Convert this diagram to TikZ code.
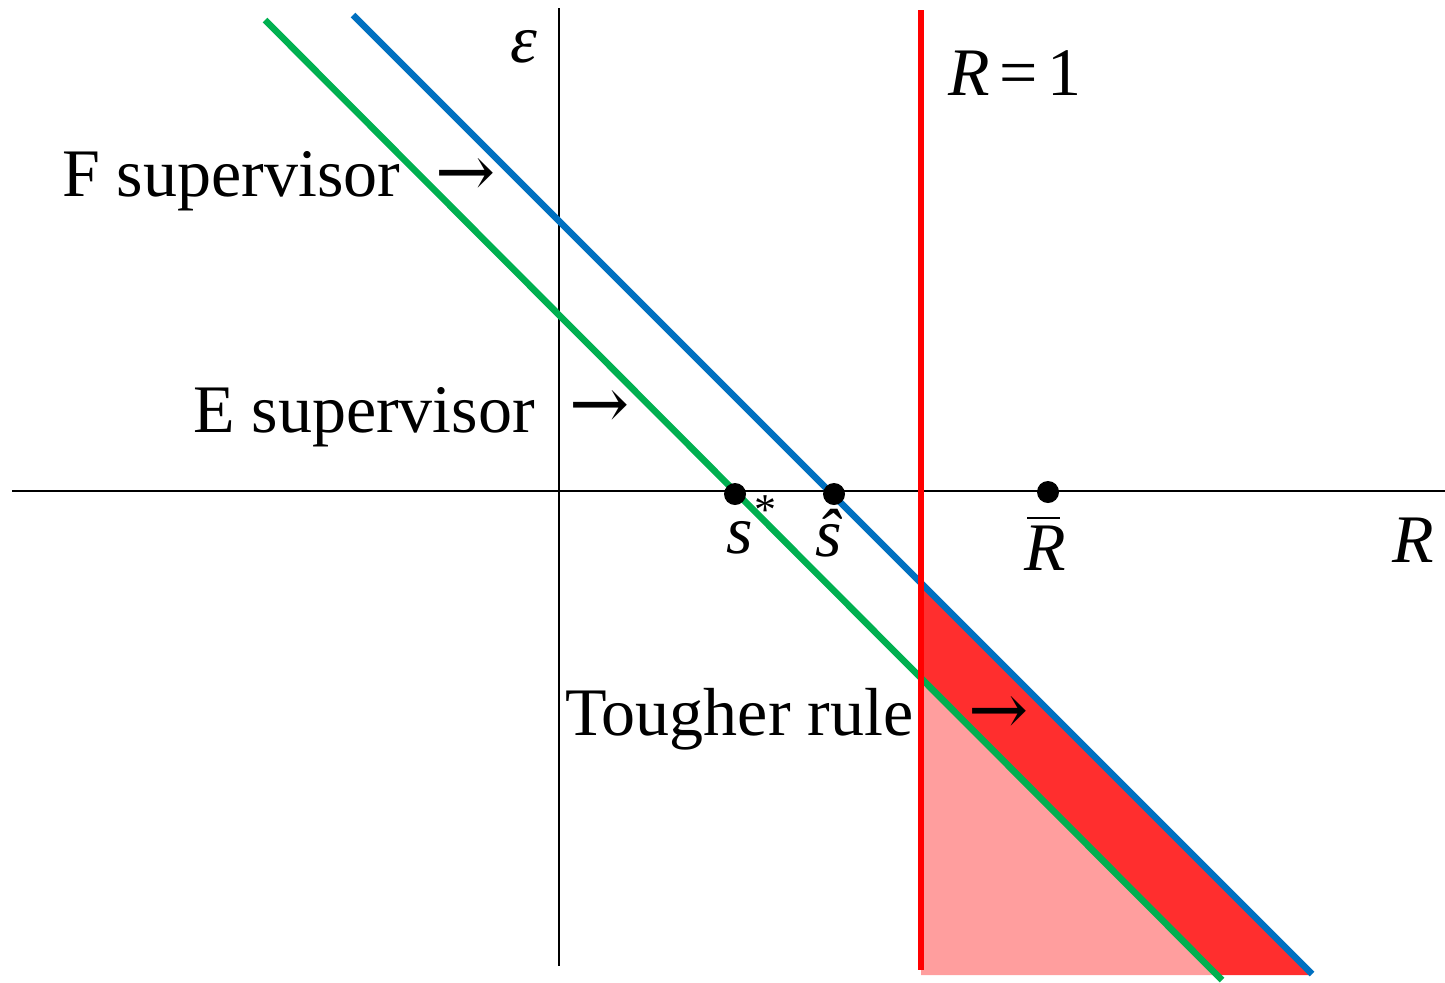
\documentclass[tikz,border=0pt]{standalone}
\usepackage{fontspec}
\setmainfont{Liberation Serif}
\newfontfamily\arrfont{DejaVu Serif}
\begin{document}
\begin{tikzpicture}[x=0.5pt,y=-0.5pt,
  lbl/.style={inner sep=0pt,outer sep=0pt,anchor=base west,font=\fontsize{34}{40}\selectfont},
  arr/.style={inner sep=0pt,outer sep=0pt,anchor=west,font=\arrfont\fontsize{36}{40}\selectfont},
  dot/.style={circle,fill=black,inner sep=0pt,minimum size=11pt},
  axis/.style={line width=1pt,black},
  bigline/.style={line width=3.3pt}]
\definecolor{bl}{RGB}{0,112,192}
\definecolor{gr}{RGB}{0,176,80}
\definecolor{rd}{RGB}{255,0,0}
\useasboundingbox (0,0) rectangle (1445,982);
% coordinates
\coordinate (bT) at (353,15);
\coordinate (bB) at (1312,974);
\coordinate (gT) at (265,20);
\coordinate (gB) at (1222,980);
\coordinate (rT) at (921,10);
\coordinate (rB) at (921,970);
\coordinate (yT) at (559,8);
\coordinate (yB) at (559,966);
\coordinate (xL) at (12,491);
\coordinate (xR) at (1445,491);
\coordinate (barL) at (1027,518);
\coordinate (barR) at (1060,518);
% shaded regions
\fill[rd!38] (921,678) -- (921,975) -- (1217,975) -- cycle;
\fill[rd!82] (921,583) -- (921,678) -- (1217,975) -- (1311,975) -- cycle;
% axes
\draw[axis] (xL) -- (xR);
\draw[axis] (yT) -- (yB);
% lines
\draw[bigline,bl] (bT) -- (bB);
\draw[bigline,gr] (gT) -- (gB);
\draw[bigline,rd] (rT) -- (rB);
% dots
\node[dot] (sstar) at (735,494) {};
\node[dot] (shat) at (834,494) {};
\node[dot] (rbar) at (1048,492) {};
% labels
\node[lbl] (eps) at (510,62) {\textit{ε}};
\node[lbl] (r1) at (948,95) {\textit{R}\hspace{5pt}=\hspace{5pt}1};
\node[lbl] (F) at (62,196) {F supervisor};
\node[arr] (Fa) at (435,178) {→};
\node[lbl] (E) at (193,432) {E supervisor};
\node[arr] (Ea) at (569,410) {→};
\node[lbl] (T) at (565,735) {Tougher rule};
\node[arr] (Ta) at (968,715) {→};
\node[lbl] (s) at (726,553) {\textit{s}};
\node[lbl,font=\fontsize{22}{26}\selectfont] (ast) at (754,524) {*};
\node[lbl] (sh) at (815,556) {\textit{ŝ}};
\node[lbl] (Rb) at (1024,570) {\textit{R}};
\draw[line width=1.3pt] (barL) -- (barR);
\node[lbl] (Rx) at (1392,562) {\textit{R}};
\end{tikzpicture}
\end{document}
